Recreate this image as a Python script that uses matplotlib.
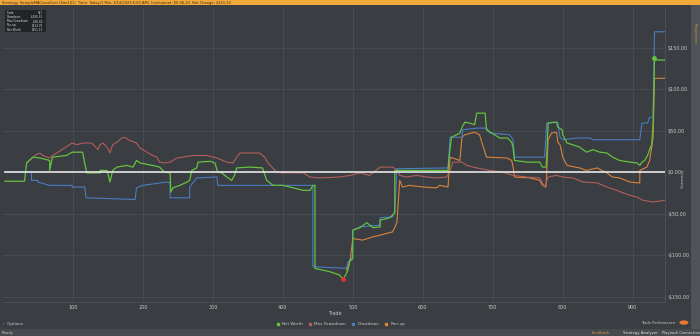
import matplotlib
matplotlib.use("Agg")
import matplotlib.pyplot as plt

# series values (trade number, currency)
net_trade = [3, 31, 34, 43, 53, 67, 67, 71, 91, 99, 114, 117, 120, 139, 139, 149, 153, 157, 163, 177,
             186, 191, 196, 214, 224, 231, 239, 240, 243, 253, 263, 267, 270, 277, 279, 296, 303, 307,
             313, 320, 327, 331, 334, 353, 371, 377, 386, 400, 410, 429, 439, 443, 446, 446, 467, 481,
             486, 491, 493, 496, 500, 500, 510, 520, 529, 539, 539, 553, 560, 560, 581, 636, 639, 641,
             653, 656, 660, 667, 674, 677, 689, 691, 710, 721, 727, 729, 731, 749, 767, 771, 776, 777,
             779, 786, 791, 793, 799, 800, 806, 814, 824, 834, 843, 853, 863, 871, 881, 896, 906, 910,
             913, 917, 921, 924, 927, 929, 931, 946]
net_worth = [-11, -11, 11, 18, 17, 14, 2, 18, 20, 24, 24, 11, -1, -1, 2, 2, -12, 2, 6, 8,
             6, 14, 11, 8, 6, 0, -1, -24, -19, -16, -12, -10, 2, 5, 12, 13, 11, 0,
             -1, -6, -10, -4, 5, 6, 5, -10, -16, -16, -18, -22, -22, -16, -16, -116, -120, -124,
             -129, -122, -118, -106, -104, -70, -67, -61, -67, -66, -58, -55, -49, 2, 2, 2, 29, 42,
             47, 54, 60, 59, 57, 71, 71, 51, 41, 41, 36, 29, 14, 12, 12, 6, 6, 18,
             59, 60, 60, 54, 51, 45, 35, 33, 30, 24, 27, 24, 23, 18, 14, 12, 11, 8,
             12, 14, 20, 27, 33, 59, 135, 135]

maxdd_trade = [34, 46, 53, 57, 67, 71, 79, 99, 106, 114, 127, 136, 139, 143, 150, 153, 157, 163, 170,
               174, 179, 191, 196, 206, 214, 220, 224, 231, 239, 249, 257, 271, 291, 306, 320, 329,
               334, 339, 367, 374, 379, 391, 400, 429, 439, 453, 481, 496, 510, 524, 539, 557, 564,
               567, 577, 591, 606, 620, 634, 639, 643, 656, 663, 677, 696, 714, 729, 749, 767, 774,
               779, 791, 800, 814, 829, 849, 863, 877, 886, 896, 906, 914, 929, 946]
max_drawdown = [11, 20, 23, 20, 17, 20, 24, 35, 33, 35, 35, 27, 33, 35, 29, 23, 33, 36, 41,
                42, 39, 35, 29, 24, 20, 18, 12, 11, 12, 17, 18, 20, 20, 17, 12, 11,
                18, 23, 23, 18, 11, 0, -1, -1, -6, -7, -6, -4, -1, -4, 6, 6, 2,
                -4, -6, -4, -6, -7, -6, 2, 12, 12, 8, 5, 2, 0, -4, -6, -7, -18,
                -6, -4, -6, -7, -12, -13, -18, -22, -25, -28, -30, -34, -36, -34]

dd_trade = [3, 41, 41, 50, 50, 67, 99, 99, 117, 119, 189, 191, 200, 234, 239, 239, 267, 267, 277,
            306, 307, 443, 443, 491, 493, 499, 500, 510, 539, 539, 557, 560, 563, 636, 639, 656,
            657, 677, 691, 696, 724, 729, 731, 774, 777, 793, 796, 800, 820, 839, 843, 910, 913,
            921, 924, 929, 931, 946]
drawdown = [0, 0, -10, -10, -12, -16, -16, -18, -18, -31, -33, -19, -16, -12, -13, -31, -31, -18, -7,
            -6, -16, -16, -114, -116, -108, -106, -70, -66, -64, -55, -54, -46, 4, 5, 42, 42,
            51, 53, 53, 47, 45, 39, 18, 18, 59, 60, 42, 39, 41, 41, 39, 39, 59,
            59, 66, 66, 169, 169]

runup_trade = [491, 496, 500, 514, 529, 539, 557, 563, 567, 571, 581, 600, 620, 624, 636, 639, 653,
               656, 660, 674, 681, 691, 720, 727, 729, 731, 753, 767, 771, 776, 777, 779, 784, 791,
               793, 796, 800, 806, 824, 834, 849, 863, 871, 881, 896, 906, 910, 910, 920, 924, 927,
               929, 931, 946]
runup = [-118, -108, -80, -82, -78, -76, -72, -61, -10, -18, -16, -18, -19, -16, -18, 18, 14,
         42, 45, 48, 45, 18, 17, 14, 6, -6, -7, -10, -16, -18, -1, 39, 47, 48,
         36, 33, 18, 8, 5, 2, 5, -1, -6, -7, -12, -13, -13, 2, 6, 14, 30,
         42, 113, 113]

y_ticks = [-150, -100, -50, 0, 50, 100, 150]
x_ticks = [100, 200, 300, 400, 500, 600, 700, 800, 900]

stats_rows = [("Trade", "947"), ("Drawdown", "-$165.53"), ("Max Drawdown", "-$65.60"),
              ("Run-up", "$113.75"), ("Net Worth", "$151.13")]

bg = "#3a3d42"
grid_c = "#4d5056"
txt = "#c8c8c8"
c_net = "#63c23f"
c_maxdd = "#b25f5c"
c_dd = "#4a7cc0"
c_run = "#d9843c"

fig = plt.figure(figsize=(7, 3.36), dpi=100)
fig.patch.set_facecolor(bg)

ax = fig.add_axes([0.004, 0.101, 0.946, 0.875])
ax.set_facecolor(bg)
ax.set_xlim(0, 946)
ax.set_ylim(-156.6, 197.6)

ax.plot(runup_trade, runup, color=c_run, lw=0.8, zorder=3)
ax.plot(maxdd_trade, max_drawdown, color=c_maxdd, lw=0.8, zorder=3)
ax.plot(dd_trade, drawdown, color=c_dd, lw=0.8, zorder=4)
ax.plot(net_trade, net_worth, color=c_net, lw=0.9, zorder=5)
ax.plot([3, 946], [0, 0], color="#e6e6e6", lw=1.2, zorder=6)

# min / max markers on net worth
imin = net_worth.index(min(net_worth))
ax.plot(net_trade[imin], net_worth[imin], "o", color="#e03030", ms=2.5, zorder=7)
ax.plot(930, 137, "o", color=c_net, ms=2.5, zorder=7)

ax.set_yticks(y_ticks)
ax.set_yticklabels([("-$%.2f" % abs(v)) if v < 0 else ("$%.2f" % v) for v in y_ticks])
ax.yaxis.tick_right()
ax.set_xticks(x_ticks)
ax.tick_params(colors=txt, labelsize=3.5, length=0, pad=2)
ax.grid(True, color=grid_c, lw=0.5)
for s in ax.spines.values():
    s.set_color("#55585e")
    s.set_linewidth(0.5)
ax.spines["left"].set_visible(False)
ax.spines["top"].set_visible(False)

fig.text(0.976, 0.47, "Currency", rotation=90, color=txt, fontsize=3.2, ha="center", va="center")
fig.text(0.478, 0.068, "Trade", color=txt, fontsize=3.5, ha="center", va="center")

# top bar
fig.patches.append(plt.Rectangle((0, 0.985), 1, 0.015, transform=fig.transFigure,
                                 facecolor="#f2a93b", edgecolor="none"))
fig.text(0.003, 0.992, "Strategy: SampleMACrossOver (Sim101)  Time: Today(1 Min, 3/14/2023 6:00 AM)  Instrument: ES 06-23  Net Change: $151.13",
         color="#3a2a10", fontsize=2.6, va="center")

# right side strip
fig.patches.append(plt.Rectangle((0.987, 0), 0.013, 0.985, transform=fig.transFigure,
                                 facecolor="#4f5257", edgecolor="none"))
fig.text(0.993, 0.9, "Properties", rotation=270, color="#d9963a", fontsize=3, ha="center", va="center")

# stats box
fig.patches.append(plt.Rectangle((0.007, 0.905), 0.058, 0.065, transform=fig.transFigure,
                                 facecolor="#222427", edgecolor="none"))
for i, (k, v) in enumerate(stats_rows):
    y = 0.962 - i * 0.0125
    fig.text(0.01, y, k, color="#d8d8d8", fontsize=2.0, va="center")
    fig.text(0.062, y, v, color="#d8d8d8", fontsize=2.0, va="center", ha="right")

# legend
handles = [plt.Line2D([], [], color=c, marker="s", ls="", ms=2) for c in (c_net, c_maxdd, c_dd, c_run)]
fig.legend(handles, ["Net Worth", "Max Drawdown", "Drawdown", "Run-up"], loc="center",
           bbox_to_anchor=(0.485, 0.035), ncol=4, frameon=False, fontsize=3,
           labelcolor=txt, handletextpad=0.1, columnspacing=0.6, borderpad=0)

# bottom bar
fig.patches.append(plt.Rectangle((0, 0), 1, 0.02, transform=fig.transFigure,
                                 facecolor="#46494e", edgecolor="none"))
fig.text(0.004, 0.036, "\u203a  Options", color=txt, fontsize=3, va="center")
fig.text(0.003, 0.009, "Ready", color=txt, fontsize=2.8, va="center")
fig.text(0.845, 0.009, "Feedback", color="#d9963a", fontsize=2.8, va="center")
fig.text(0.89, 0.009, "Strategy Analyzer", color="#e0e0e0", fontsize=2.8, va="center")
fig.text(0.945, 0.009, "Playback Connection", color="#e0e0e0", fontsize=2.6, va="center")
fig.text(0.965, 0.04, "Trade Performance", color=txt, fontsize=2.6, va="center", ha="right")
fig.patches.append(matplotlib.patches.Circle((0.977, 0.04), 0.0065, transform=fig.transFigure,
                                             facecolor="#e8782f", edgecolor="none"))

fig.savefig("out.png", dpi=100, facecolor=fig.get_facecolor())
